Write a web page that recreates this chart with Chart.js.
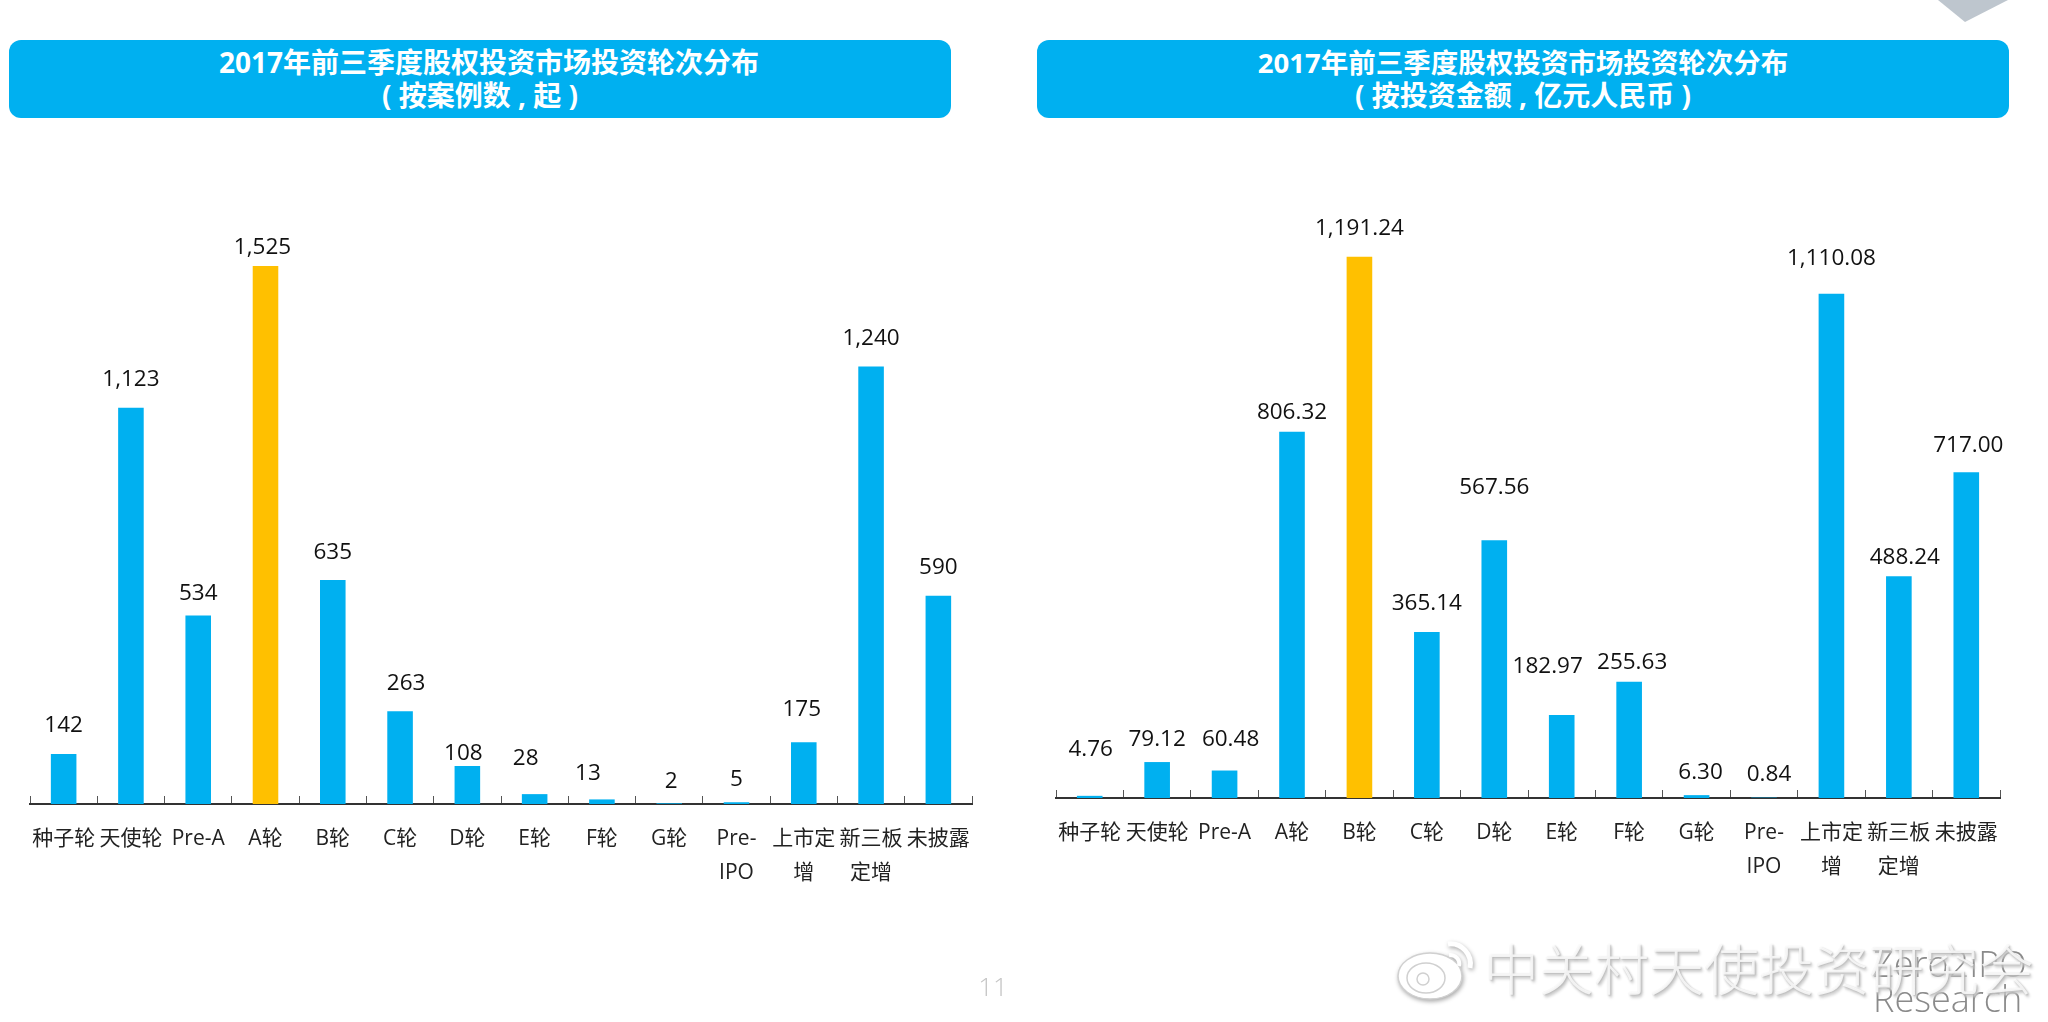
<!DOCTYPE html>
<html>
<head>
<meta charset="utf-8">
<title>2017年前三季度股权投资市场投资轮次分布</title>
<script src="https://cdn.jsdelivr.net/npm/chart.js@4"></script>
<style>
  html, body { margin: 0; padding: 0; background: #fff; overflow: hidden; }
  body { width: 2048px; height: 1022px; position: relative; font-family: "Open Sans", "Noto Sans CJK SC", sans-serif; }
  canvas { position: absolute; top: 0; }
  #chartLeft { left: 0; }
  #chartRight { left: 1024px; }
  .banner {
    position: absolute; top: 40px; height: 78px; background: #00B0F0; border-radius: 12px;
    color: #fff; font-weight: 700; font-size: 28px; line-height: 33px; text-align: center;
    padding-top: 6px; box-sizing: border-box; white-space: pre;
  }
  #bannerLeft { left: 9px; width: 942px; }
  #bannerLeft .first { position: relative; left: 9px; }
  #bannerRight { left: 1037px; width: 972px; }
  #bannerRight .first { font-size: 27.5px; }
  #corner { position: absolute; left: 1938px; top: 0; }
  #page { position: absolute; left: 978px; top: 968px; width: 30px; text-align: center; font-size: 26px; color: #c4c4c4; font-weight: 300; }
  .brand { position: absolute; left: 1873px; font-size: 36px; line-height: 40px; color: #8a8a8a; font-family: "Open Sans", sans-serif; font-weight: 300; }
  #zero2ipo { top: 944px; }
  #research { top: 979px; }
  #mark {
    position: absolute; left: 1484px; top: 931px; font-size: 55px; line-height: 70px; white-space: nowrap; color: rgba(252, 252, 252, 0.85);
    font-family: "Noto Sans CJK SC", sans-serif; font-weight: 300;
    text-shadow: 1px 1px 2px #b5b5b5, 2px 3px 3px #ccc;
  }
  #logo { position: absolute; left: 1396px; top: 932px; filter: drop-shadow(1px 2px 2px #aaa); }
</style>
</head>
<body>
<svg id="corner" width="72" height="24"><polygon points="0,0 27,22 70,0" fill="#BEC6CE"/></svg>
<div class="banner" id="bannerLeft"><span class="first">2017年前三季度股权投资市场投资轮次分布</span><br>( 按案例数 , 起 )</div>
<div class="banner" id="bannerRight"><span class="first">2017年前三季度股权投资市场投资轮次分布</span><br>( 按投资金额 , 亿元人民币 )</div>
<canvas id="chartLeft" width="1024" height="1022"></canvas>
<canvas id="chartRight" width="1024" height="1022"></canvas>
<div id="page">11</div>
<div class="brand" id="zero2ipo">Zero2IPO</div>
<div class="brand" id="research">Research</div>
<svg id="logo" width="84" height="70" fill="#fff" stroke="#d0d0d0" stroke-width="1.5">
  <ellipse cx="34" cy="44" rx="32" ry="23"/>
  <ellipse cx="30" cy="46" rx="19" ry="15"/>
  <circle cx="27" cy="47" r="6"/>
  <path d="M52 12 a20 20 0 0 1 22 24" fill="none" stroke="#fff" stroke-width="5"/>
  <path d="M53 23 a9 9 0 0 1 10 11" fill="none" stroke="#fff" stroke-width="4"/>
</svg>
<div id="mark">中关村天使投资研究会</div>
<script>
var categories = ["种子轮", "天使轮", "Pre-A", "A轮", "B轮", "C轮", "D轮", "E轮", "F轮", "G轮", ["Pre-", "IPO"], ["上市定", "增"], ["新三板", "定增"], "未披露"];
var dealCounts = [142, 1123, 534, 1525, 635, 263, 108, 28, 13, 2, 5, 175, 1240, 590];
var dealLabels = ["142", "1,123", "534", "1,525", "635", "263", "108", "28", "13", "2", "5", "175", "1,240", "590"];
var amounts = [4.76, 79.12, 60.48, 806.32, 1191.24, 365.14, 567.56, 182.97, 255.63, 6.30, 0.84, 1110.08, 488.24, 717.00];
var amountLabels = ["4.76", "79.12", "60.48", "806.32", "1,191.24", "365.14", "567.56", "182.97", "255.63", "6.30", "0.84", "1,110.08", "488.24", "717.00"];

// the labels were placed by hand in the original, so each one has its own gap and shift
var dealLabelGap = [28, 28, 22, 18, 27, 28, 12, 36, 26, 22, 23, 33, 28, 28];
var dealLabelShift = [0, 0, 0, -3, 0, 6, -4, -9, -14, 2, 0, -2, 0, 0];
var amountLabelGap = [46, 22, 31, 19, 28, 29, 53, 48, 19, 23, 23, 35, 19, 27];
var amountLabelShift = [1, 0, 6, 0, 0, 0, 0, -14, 3, 4, 5, 0, 6, 2];

var BLUE = '#00B0F0';
var YELLOW = '#FFC000';

var valueLabels = {
  id: 'valueLabels',
  afterDatasetsDraw: function(chart, args, opts) {
    var ctx = chart.ctx;
    var bars = chart.getDatasetMeta(0).data;
    ctx.save();
    ctx.font = '22.5px "Open Sans", "Noto Sans CJK SC", sans-serif';
    ctx.fillStyle = '#111';
    ctx.textAlign = 'center';
    ctx.textBaseline = 'middle';
    bars.forEach(function(bar, i) {
      ctx.fillText(opts.labels[i], bar.x + opts.shift[i], bar.y - opts.gap[i]);
    });
    ctx.restore();
  }
};

function makeChart(id, values, labels, gap, shift, peak, yMax, padLeft, padRight, padTop, axisHeight) {
  return new Chart(document.getElementById(id), {
    type: 'bar',
    plugins: [valueLabels],
    data: {
      labels: categories,
      datasets: [{
        data: values,
        backgroundColor: values.map(function(v, i) { return i === peak ? YELLOW : BLUE; }),
        barPercentage: 0.38,
        categoryPercentage: 1
      }]
    },
    options: {
      responsive: false,
      animation: false,
      layout: { padding: { left: padLeft, right: padRight, top: padTop, bottom: 0 } },
      plugins: {
        legend: { display: false },
        tooltip: { enabled: false },
        valueLabels: { labels: labels, gap: gap, shift: shift }
      },
      scales: {
        y: { display: false, min: 0, max: yMax },
        x: {
          afterFit: function(scale) { scale.height = axisHeight; },
          border: { color: '#333', width: 2 },
          grid: { drawOnChartArea: false, tickLength: -8, tickWidth: 1, tickColor: '#555', offset: true },
          ticks: {
            autoSkip: false, maxRotation: 0, minRotation: 0, padding: 26,
            color: '#222',
            font: { family: '"Open Sans", "Noto Sans CJK SC", sans-serif', size: 21, lineHeight: 1.62 }
          }
        }
      }
    }
  });
}

makeChart('chartLeft', dealCounts, dealLabels, dealLabelGap, dealLabelShift, 3, 1800, 30, 52, 169, 218);
makeChart('chartRight', amounts, amountLabels, amountLabelGap, amountLabelShift, 4, 1400, 32, 48, 162, 224);
</script>
</body>
</html>
